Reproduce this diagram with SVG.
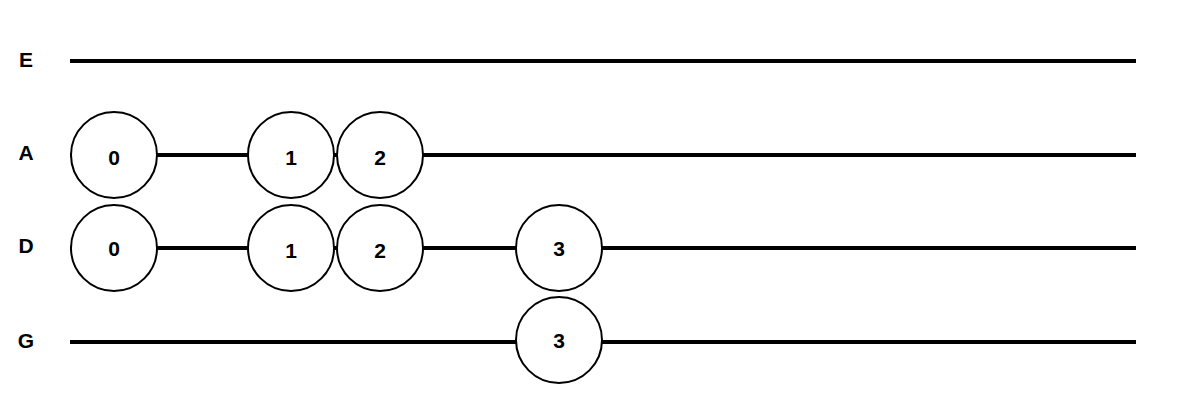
<svg xmlns="http://www.w3.org/2000/svg" width="1180" height="406" viewBox="0 0 1180 406">
<style>
.l{stroke:#000;stroke-width:4;fill:none}
.c{fill:#fff;stroke:#000;stroke-width:2}
.t{font-family:"Liberation Sans",Arial,sans-serif;font-size:21px;font-weight:bold;text-anchor:middle;dominant-baseline:central}
</style>
<rect width="1180" height="406" fill="#fff"/>
<g id="connectors">
<line class="l" x1="70" y1="61" x2="1136" y2="61"/>
<line class="l" x1="70" y1="155" x2="1136" y2="155"/>
<line class="l" x1="70" y1="248" x2="1136" y2="248"/>
<line class="l" x1="70" y1="342" x2="1136" y2="342"/>
</g>
<g id="labels">
<text class="t" x="26" y="59">E</text>
<text class="t" x="26" y="152">A</text>
<text class="t" x="26" y="245">D</text>
<text class="t" x="26" y="340">G</text>
</g>
<g id="A0"><circle class="c" cx="114" cy="155" r="43"/><text class="t" x="114" y="157">0</text></g>
<g id="A1"><circle class="c" cx="291" cy="155" r="43"/><text class="t" x="291" y="157">1</text></g>
<g id="A2"><circle class="c" cx="380" cy="155" r="43"/><text class="t" x="380" y="157">2</text></g>
<g id="D0"><circle class="c" cx="114" cy="248" r="43"/><text class="t" x="114" y="248">0</text></g>
<g id="D1"><circle class="c" cx="291" cy="248" r="43"/><text class="t" x="291" y="250">1</text></g>
<g id="D2"><circle class="c" cx="380" cy="248" r="43"/><text class="t" x="380" y="250">2</text></g>
<g id="D3"><circle class="c" cx="559" cy="248" r="43"/><text class="t" x="559" y="248">3</text></g>
<g id="G3"><circle class="c" cx="559" cy="340" r="43"/><text class="t" x="559" y="340">3</text></g>
</svg>
